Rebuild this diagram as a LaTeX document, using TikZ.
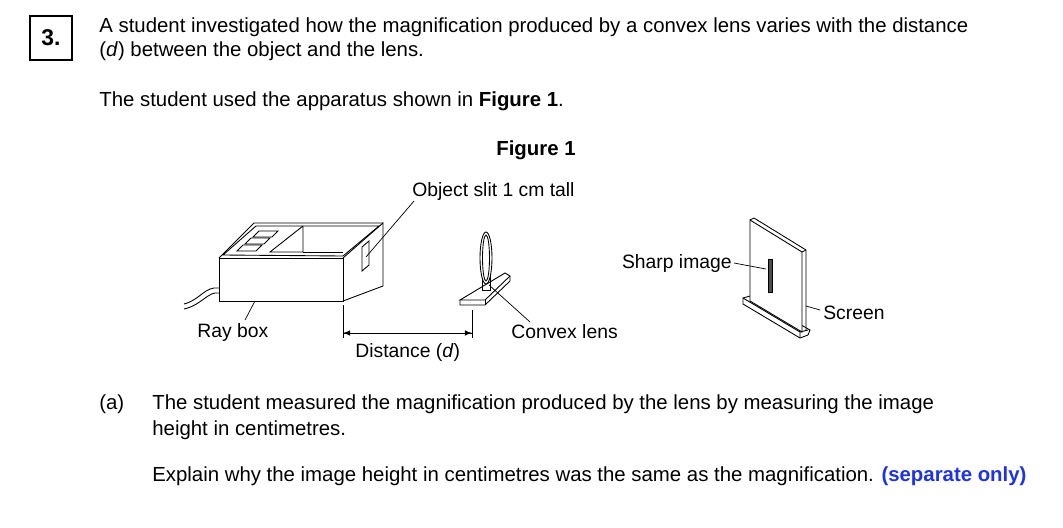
\documentclass[tikz,border=0pt]{standalone}
\usepackage{fontspec}
\setmainfont{Liberation Sans}
\begin{document}
\begin{tikzpicture}[x=0.02cm,y=-0.02cm,
  txt/.style={anchor=west,inner sep=0pt,font=\fontsize{11.6}{13}\selectfont},
  lab/.style={inner sep=0pt,font=\fontsize{11}{12}\selectfont},
  ln/.style={line width=0.5pt},
  lead/.style={line width=0.4pt}]
\useasboundingbox (0,0) rectangle (1063,528);
% question number
\node[draw,line width=0.8pt,minimum width=0.84cm,minimum height=0.88cm,font=\fontsize{13}{15}\selectfont\bfseries] (num) at (51,38) {3.};
\node[txt] (t1) at (99,27) {A student investigated how the magnification produced by a convex lens varies with the distance};
\node[txt] (t2) at (99,51) {(\textit{d}) between the object and the lens.};
\node[txt] (t3) at (99,101) {The student used the apparatus shown in \textbf{Figure 1}.};
\node[txt,anchor=center] (fig) at (536,150) {\textbf{Figure 1}};
\node[txt] (a) at (99,404) {(a)};
\node[txt] (a1) at (152,404) {The student measured the magnification produced by the lens by measuring the image};
\node[txt] (a2) at (152,430) {height in centimetres.};
\node[txt] (a3) at (152,476) {Explain why the image height in centimetres was the same as the magnification. \textcolor[RGB]{30,50,230}{\textbf{(separate only)}}};
% ray box
\draw[ln,fill=white] (219,258) rectangle (343,301);
\draw[ln] (343,258) -- (383,223) -- (383,286) -- (343,301);
\draw[ln] (219,258) -- (254,223) -- (383,223);
\draw[ln] (223,255) -- (256,226) -- (379,226) -- (343,256) -- cycle;
\draw[ln] (303,226) -- (303,252) -- (270,252) -- (303,226);
\draw[ln] (303,252) -- (343,252);
\draw[ln] (237,251) -- (256,251) -- (262,245) -- (243,245) -- cycle;
\draw[ln] (245,244) -- (264,244) -- (270,238) -- (251,238) -- cycle;
\draw[ln] (253,237) -- (272,237) -- (278,231) -- (259,231) -- cycle;
\draw[ln] (362,247) -- (369,241) -- (369,265) -- (362,271) -- cycle;
% cable
\draw[ln] (219,288) .. controls (205,286) and (200,300) .. (184,304);
\draw[ln] (219,293) .. controls (208,291) and (202,305) .. (184,309);
% lens
\draw[ln,fill=white] (460,300) -- (505,273) -- (510,276) -- (485,300) -- cycle;
\draw[ln] (460,300) -- (460,305) -- (485,305) -- (510,281) -- (510,276);
\draw[ln] (485,300) -- (485,305);
\draw[ln] (482,262) -- (482,290) -- (490,290) -- (490,262);
\draw[ln,fill=white] (486,258) ellipse (6 and 26);
\draw[ln] (486,258) ellipse (3.5 and 23);
\coordinate (lensp) at (489,285);
% screen
\draw[ln,fill=white] (743,298) -- (750,296) -- (810,330) -- (808,335) -- (800,338) -- (743,304) -- cycle;
\draw[ln] (800,332) -- (808,330);
\draw[ln] (743,298) -- (800,332) -- (800,338);
\draw[ln,fill=white] (750,220) -- (802,252) -- (802,332) -- (750,301) -- cycle;
\draw[ln] (750,220) -- (754,218) -- (806,250) -- (806,330);
\draw[ln] (802,252) -- (806,250);
\draw[fill=black!70,draw=black] (768,259) rectangle (772,292);
% labels
\node[lab,anchor=west] (obj) at (412,191) {Object slit 1 cm tall};
\draw[lead] (414,201) -- (366,257);
\node[lab,anchor=west] (ray) at (197,332) {Ray box};
\draw[lead] (245,320) -- (255,301);
\node[lab,anchor=west] (conv) at (511,332) {Convex lens};
\draw[lead] (530,322) -- (lensp);
\node[lab,anchor=west] (dist) at (355,352) {Distance (\textit{d})};
\coordinate (d1) at (343,333); \coordinate (d2) at (472,333);
\draw[lead] (343,305) -- (343,338);
\draw[lead] (472,310) -- (472,338);
\draw[-latex,lead] (d1) -- (d2);
\draw[-latex,lead] (d2) -- (d1);
\node[lab,anchor=east] (sharp) at (732,263) {Sharp image};
\draw[lead] (734,263) -- (766,269);
\node[lab,anchor=west] (scr) at (823,313) {Screen};
\draw[lead] (820,310) -- (806,306);
\end{tikzpicture}
\end{document}
